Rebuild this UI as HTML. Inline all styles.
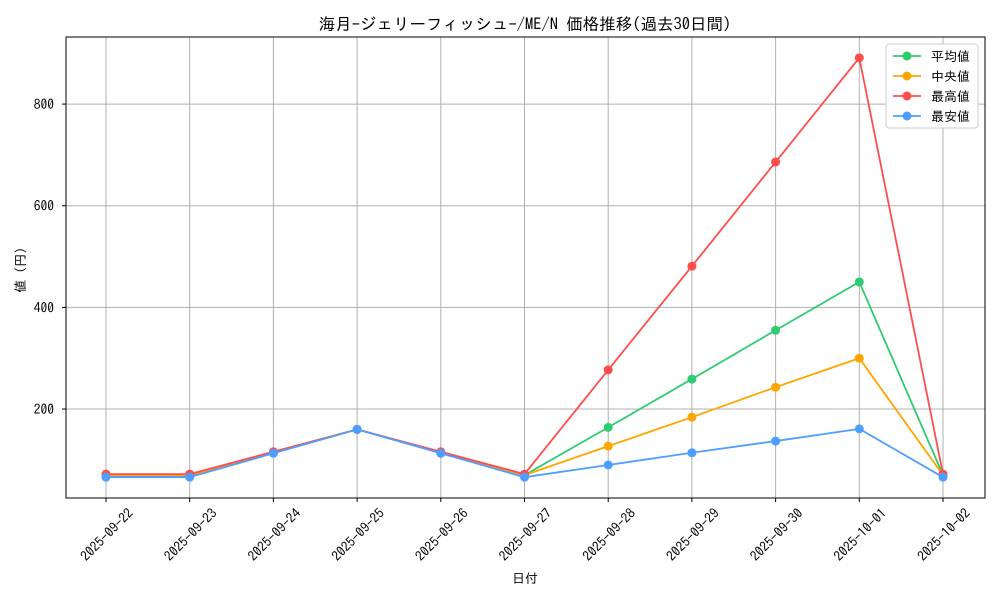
<!DOCTYPE html>
<html><head><meta charset="utf-8">
<style>
body{margin:0;background:#fff;}
svg text{font-family:"IPAGothic","Liberation Sans","Noto Sans CJK JP",monospace;fill:#000;}
</style></head>
<body>
<svg id="chart" width="1000" height="600" viewBox="0 0 1000 600" xmlns="http://www.w3.org/2000/svg">
<rect width="1000" height="600" fill="#fff"/>
<text x="525" y="30" font-size="16.5" text-anchor="middle">海月-ジェリーフィッシュ-/ME/N 価格推移(過去30日間)</text>
<g id="grid"></g>
<g id="series"></g>
<rect x="66" y="37" width="919" height="461" fill="none" stroke="#000" stroke-width="1"/>
<g id="axes"></g>
<text x="525" y="583" font-size="13" text-anchor="middle">日付</text>
<text x="25" y="270" font-size="13" text-anchor="middle" transform="rotate(-90 25 270)">値 (円)</text>
<g id="legend"></g>
</svg>
<script>
const categories=["2025-09-22","2025-09-23","2025-09-24","2025-09-25","2025-09-26","2025-09-27","2025-09-28","2025-09-29","2025-09-30","2025-10-01","2025-10-02"];
const avgValues=[68,68,114,160,114,70,164,259,355,450,70];
const medianValues=[70,70,114,160,114,70,127,184,243,300,70];
const maxValues=[72,72,116,160,116,72,277,481,686,891,72];
const minValues=[66,66,113,160,113,66,90,114,137,161,66];
const yTicks=[200,400,600,800];
const seriesNames=["平均値","中央値","最高値","最安値"];
const NS="http://www.w3.org/2000/svg";
const L=66,R=985,T=37,B=498,yMin=25,yMax=932;
function xs(i){return 106+i*(943-106)/(categories.length-1);}
function ys(v){return B-(v-yMin)/(yMax-yMin)*(B-T);}
function mk(tag,attrs,parent){const e=document.createElementNS(NS,tag);for(const k in attrs)e.setAttribute(k,attrs[k]);parent.appendChild(e);return e;}
const grid=document.getElementById('grid'),axes=document.getElementById('axes'),ser=document.getElementById('series'),leg=document.getElementById('legend');
categories.forEach((c,i)=>{
  const x=xs(i);
  const g=mk('line',{x1:x,x2:x,y1:T,y2:B,stroke:'#b0b0b0','stroke-width':1},grid);
  
  
  const t=mk('line',{x1:x,x2:x,y1:B,y2:B+4,stroke:'#000'},axes);
  
  
  const tx=mk('text',{x:0,y:0,'font-size':13.5,'text-anchor':'end',transform:`translate(${x+21} ${B+9}) rotate(-45)`,dy:10},axes);
  tx.textContent=c;
  
  
});
yTicks.forEach(v=>{
  const y=ys(v);
  const g=mk('line',{x1:L,x2:R,y1:y,y2:y,stroke:'#b0b0b0','stroke-width':1},grid);
  
  
  const t=mk('line',{x1:L-4,x2:L,y1:y,y2:y,stroke:'#000'},axes);
  
  
  const tx=mk('text',{x:L-12,y:y+5,'font-size':13.5,'text-anchor':'end'},axes);
  tx.textContent=v;
  
  
});
const allSeries=[[avgValues,'#2ecc71','avg'],[medianValues,'#ffa500','median'],[maxValues,'#ff4d4d','max'],[minValues,'#4d9fff','min']];
allSeries.forEach(([vals,col,key])=>{
  const pl=mk('polyline',{points:vals.map((v,i)=>xs(i)+','+ys(v)).join(' '),fill:'none',stroke:col,'stroke-width':1.8},ser);
  
  
  vals.forEach((v,i)=>{
    const c=mk('circle',{cx:xs(i),cy:ys(v),r:4.5,fill:col},ser);
    
    
  });
});
const lb=mk('rect',{x:886,y:44,width:92,height:84,fill:'#fff',stroke:'#ccc',rx:3},leg);


allSeries.forEach(([vals,col,key],i)=>{
  const y=56+i*20;
  const l=mk('line',{x1:893,x2:921,y1:y,y2:y,stroke:col,'stroke-width':1.8},leg);
  
  
  const c=mk('circle',{cx:907,cy:y,r:4.5,fill:col},leg);
  
  
  const t=mk('text',{x:931,y:y+5,'font-size':13},leg);
  t.textContent=seriesNames[i];
  
  
});
</script>
</body></html>
